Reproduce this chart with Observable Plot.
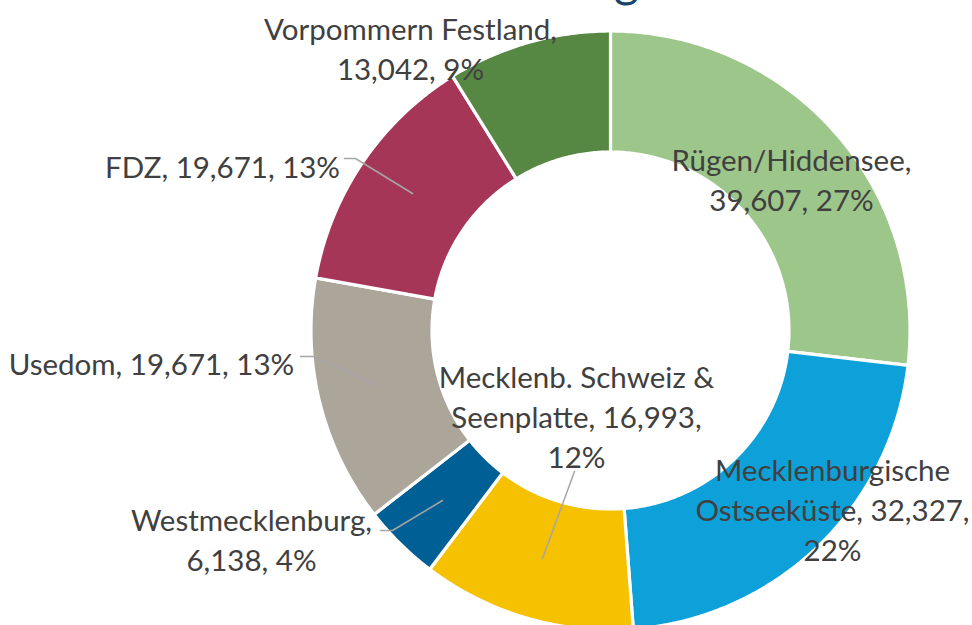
<!DOCTYPE html>
<html><head><meta charset="utf-8">
<script src="https://cdn.jsdelivr.net/npm/d3@7"></script>
<script src="https://cdn.jsdelivr.net/npm/@observablehq/plot@0.6"></script>
<style>html,body{margin:0;padding:0;background:#fff;overflow:hidden}</style>
</head><body><div id="chart"></div>
<script>
// ---- data ----
const regions = ["Rügen/Hiddensee", "Mecklenburgische Ostseeküste", "Mecklenb. Schweiz & Seenplatte", "Westmecklenburg", "Usedom", "FDZ", "Vorpommern Festland"];
const values = [39607, 32327, 16993, 6138, 19671, 19671, 13042];
const labelTexts = [
  "Rügen/Hiddensee,\n39,607, 27%",
  "Mecklenburgische\nOstseeküste, 32,327,\n22%",
  "Mecklenb. Schweiz &\nSeenplatte, 16,993,\n12%",
  "Westmecklenburg,\n6,138, 4%",
  "Usedom, 19,671, 13%",
  "FDZ, 19,671, 13%",
  "Vorpommern Festland,\n13,042, 9%"
];
const titleFragment = "g";

// ---- styles / layout ----
const colors = ["#9DC68A", "#0EA0D8", "#F5C100", "#005F95", "#ABA59A", "#A63657", "#578843"];
const W = 972, H = 625;
const center = {x: 610, y: 330};
const outerR = 299.5, innerR = 178.5;
const fontSize = 29.5, lineH = 40;
const textColor = "#404040";
// first-line baseline centre of each label
const labelPos = [[791, 163], [832, 473], [576, 380], [251, 523], [151, 367], [222, 170], [410, 32]];
// leader lines (by label index)
const leaders = [
  {i: 2, pts: [[574, 471], [542, 558]]},
  {i: 3, pts: [[380, 530], [392, 530], [442, 500]]},
  {i: 4, pts: [[300, 356], [313, 356], [378, 385]]},
  {i: 5, pts: [[344, 158], [355, 158], [412, 193]]}
];

// ---- slice geometry via d3.pie ----
const arcs = d3.pie().sort(null).startAngle(0).endAngle(2 * Math.PI)(values);
const slicePts = [];
arcs.forEach((a, i) => {
  const n = Math.max(4, Math.ceil((a.endAngle - a.startAngle) / 0.01));
  const pt = (ang, r) => ({x: center.x + r * Math.sin(ang), y: center.y - r * Math.cos(ang), name: regions[i]});
  for (let k = 0; k <= n; k++) slicePts.push(pt(a.startAngle + (a.endAngle - a.startAngle) * k / n, outerR));
  for (let k = n; k >= 0; k--) slicePts.push(pt(a.startAngle + (a.endAngle - a.startAngle) * k / n, innerR));
  slicePts.push(pt(a.startAngle, outerR));
});

const labels = labelTexts.map((t, i) => ({text: t, x: labelPos[i][0], y: labelPos[i][1] - 0.71 * fontSize}));
const leaderPts = leaders.flatMap(l => l.pts.map(p => ({x: p[0], y: p[1], id: l.i})));

const chart = Plot.plot({
  width: W, height: H, margin: 0,
  x: {domain: [0, W], axis: null},
  y: {domain: [H, 0], axis: null},
  color: {domain: regions, range: colors},
  style: {fontFamily: "Lato, sans-serif", background: "#fff", overflow: "visible"},
  marks: [
    Plot.line(slicePts, {x: "x", y: "y", z: "name", fill: "name", stroke: "#fff", strokeWidth: 3.2, strokeLinejoin: "round", curve: "linear"}),
    Plot.line(leaderPts, {x: "x", y: "y", z: "id", stroke: "#A6A6A6", strokeWidth: 1.5}),
    Plot.text(labels, {x: "x", y: "y", text: "text", lineAnchor: "top", textAnchor: "middle", fontSize: fontSize, lineHeight: lineH / fontSize, fill: textColor}),
    Plot.text([titleFragment], {x: () => 626, y: () => -4, text: d => d, fontSize: 48, fill: "#17466A", lineAnchor: "bottom", textAnchor: "middle"})
  ]
});
document.getElementById("chart").appendChild(chart);
</script>
</body></html>
